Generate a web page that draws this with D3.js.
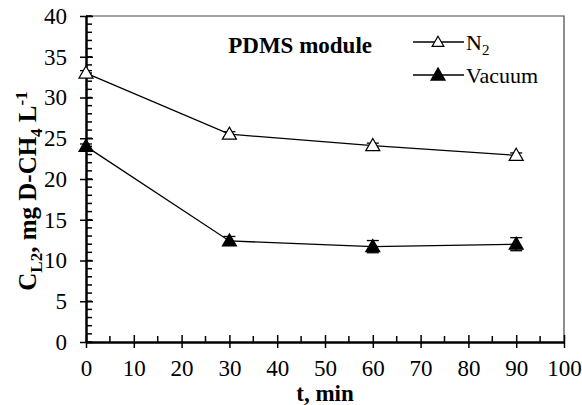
<!DOCTYPE html>
<html>
<head>
<meta charset="utf-8">
<script src="https://cdn.jsdelivr.net/npm/d3@7/dist/d3.min.js"></script>
<style>
  body { margin: 0; background: #fff; }
</style>
</head>
<body>
<div id="chart-area"></div>
<script>
// data
var times = [0, 30, 60, 90];
var n2Values = [33.0, 25.5, 24.1, 22.9];
var n2Errors = [0.3, 0.3, 0.3, 0.3];
var vacuumValues = [24.0, 12.4, 11.7, 12.0];
var vacuumErrors = [0.3, 0.55, 0.75, 0.8];
var xTicks = [0, 10, 20, 30, 40, 50, 60, 70, 80, 90, 100];
var yTicks = [0, 5, 10, 15, 20, 25, 30, 35, 40];

var FONT = "'Liberation Serif', 'Times New Roman', serif";
var W = 582, H = 405;
var margin = { left: 86, right: 18, top: 16, bottom: 63 };
var width = W - margin.left - margin.right,
  height = H - margin.top - margin.bottom;

var svg = d3.select("#chart-area")
  .append("svg")
  .attr("width", W)
  .attr("height", H)
  .style("font-family", FONT);

var g = svg.append("g")
  .attr("transform", "translate(" + margin.left + "," + margin.top + ")");

var x = d3.scaleLinear().domain([0, 100]).range([0, width]);
var y = d3.scaleLinear().domain([0, 40]).range([height, 0]);

// frame (top + right)
g.append("path")
  .attr("d", "M0,0H" + width + "V" + height)
  .attr("fill", "none")
  .attr("stroke", "#444")
  .attr("stroke-width", 1.2);

// minor ticks
g.selectAll(".ymin").data(d3.range(0, 41, 1))
  .enter().append("line")
  .attr("x1", 0).attr("x2", 6)
  .attr("y1", function (d) { return y(d); })
  .attr("y2", function (d) { return y(d); })
  .attr("stroke", "#000").attr("stroke-width", 1.5);

g.selectAll(".xmin").data(d3.range(5, 100, 10))
  .enter().append("line")
  .attr("x1", function (d) { return x(d); })
  .attr("x2", function (d) { return x(d); })
  .attr("y1", height).attr("y2", height - 6)
  .attr("stroke", "#000").attr("stroke-width", 1.5);

// axes
var yAxis = d3.axisLeft(y).tickValues(yTicks).tickSizeInner(6).tickSizeOuter(0).tickPadding(13);
var gy = g.append("g").call(yAxis);
gy.selectAll(".tick line").attr("x2", 7).attr("x1", -6).attr("stroke-width", 1.5);

var xAxis = d3.axisBottom(x).tickValues(xTicks).tickSizeInner(6).tickSizeOuter(0).tickPadding(12);
var gx = g.append("g").attr("transform", "translate(0," + height + ")").call(xAxis);
gx.selectAll(".tick line").attr("y1", -7).attr("y2", 6).attr("stroke-width", 1.5);

[gx, gy].forEach(function (a) {
  a.attr("font-family", null).attr("font-size", null);
  a.select(".domain").attr("stroke", "#000").attr("stroke-width", 2.5);
  a.selectAll(".tick text")
    .style("font-family", FONT)
    .style("font-size", "23px")
    .attr("fill", "#000");
});

// series
var line = d3.line()
  .x(function (d) { return x(d.t); })
  .y(function (d) { return y(d.v); });

var tri = d3.symbol().type(d3.symbolTriangle).size(85);
var triSmall = d3.symbol().type(d3.symbolTriangle).size(60);

function drawSeries(values, errors, filled) {
  var data = times.map(function (t, i) { return { t: t, v: values[i], e: errors[i] }; });
  g.append("path").datum(data)
    .attr("d", line)
    .attr("fill", "none")
    .attr("stroke", "#000")
    .attr("stroke-width", 1.3);

  var eb = g.selectAll(null).data(data).enter().append("g");
  eb.append("line")
    .attr("x1", function (d) { return x(d.t); })
    .attr("x2", function (d) { return x(d.t); })
    .attr("y1", function (d) { return y(d.v - d.e); })
    .attr("y2", function (d) { return y(d.v + d.e); })
    .attr("stroke", "#000").attr("stroke-width", 1.3);
  eb.selectAll(".cap").data(function (d) { return [d.v - d.e, d.v + d.e].map(function (v) { return { t: d.t, v: v }; }); })
    .enter().append("line")
    .attr("x1", function (d) { return x(d.t) - 6; })
    .attr("x2", function (d) { return x(d.t) + 6; })
    .attr("y1", function (d) { return y(d.v); })
    .attr("y2", function (d) { return y(d.v); })
    .attr("stroke", "#000").attr("stroke-width", 1.3);

  g.selectAll(null).data(data).enter().append("path")
    .attr("d", tri)
    .attr("transform", function (d) { return "translate(" + x(d.t) + "," + (y(d.v) + 1) + ")"; })
    .attr("fill", filled ? "#000" : "#fff")
    .attr("stroke", "#000")
    .attr("stroke-width", 1.2);
}

drawSeries(n2Values, n2Errors, false);
drawSeries(vacuumValues, vacuumErrors, true);

// title inside plot
svg.append("text")
  .attr("x", 372).attr("y", 53)
  .attr("text-anchor", "end")
  .style("font-family", FONT)
  .style("font-size", "23px")
  .style("font-weight", "bold")
  .text("PDMS module");

// legend
var legendItems = [
  { label: "N", sub: "2", filled: false },
  { label: "Vacuum", sub: null, filled: true }
];
var legend = svg.append("g").attr("transform", "translate(413,42)");
legendItems.forEach(function (item, i) {
  var row = legend.append("g").attr("transform", "translate(0," + (i * 33) + ")");
  row.append("line").attr("x1", 0).attr("x2", 51).attr("y1", 0).attr("y2", 0)
    .attr("stroke", "#000").attr("stroke-width", 1.3);
  row.append("path").attr("d", item.filled ? tri : triSmall).attr("transform", "translate(25,1)")
    .attr("fill", item.filled ? "#000" : "#fff")
    .attr("stroke", "#000").attr("stroke-width", 1.2);
  var t = row.append("text").attr("x", 53).attr("y", 8)
    .style("font-family", FONT).style("font-size", "22px").text(item.label);
  if (item.sub) {
    t.append("tspan").attr("dy", 5).style("font-size", "15px").text(item.sub);
  }
});

// axis titles
svg.append("text")
  .attr("x", margin.left + x(50)).attr("y", 401)
  .attr("text-anchor", "middle")
  .style("font-family", FONT)
  .style("font-size", "23px")
  .style("font-weight", "bold")
  .text("t, min");

var yt = svg.append("text")
  .attr("transform", "translate(36,191) rotate(-90)")
  .attr("text-anchor", "middle")
  .style("font-family", FONT)
  .style("font-size", "25px")
  .style("font-weight", "bold");
yt.append("tspan").text("C");
yt.append("tspan").attr("dy", 6).style("font-size", "17px").text("L2");
yt.append("tspan").attr("dy", -6).text(", mg D-CH");
yt.append("tspan").attr("dy", 6).style("font-size", "17px").text("4");
yt.append("tspan").attr("dy", -6).text(" L");
yt.append("tspan").attr("dy", -9).style("font-size", "17px").text("-1");
</script>
</body>
</html>
